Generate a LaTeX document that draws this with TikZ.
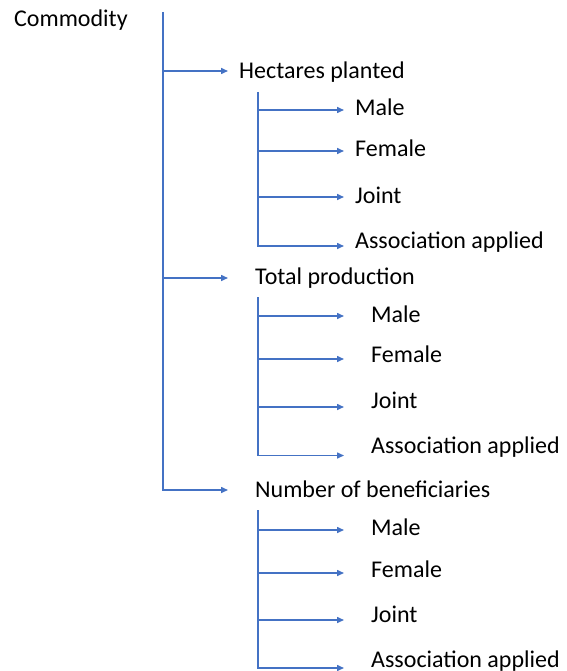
\documentclass[tikz,border=0pt]{standalone}
\usepackage{fontspec}
\setmainfont{Carlito}
\usetikzlibrary{arrows.meta}
\definecolor{linkblue}{RGB}{68,114,196}

\begin{document}
\begin{tikzpicture}[
  x=1pt, y=-1pt,
  item/.style={
    anchor=base west, inner sep=0pt,
    font=\fontsize{24}{28}\selectfont
  },
  branch/.style={
    -{Triangle[length=7pt,width=6pt]},
    draw=linkblue, line width=1.5pt
  }
]
\useasboundingbox (0,0) rectangle (566,671);

% ==================== LABELS ====================

\node (comm) [item] at (14,27) {Commodity};

\node (hect) [item] at (239,79) {Hectares planted};
\node (hmale) [item] at (355,115.5) {Male};
\node (hfem) [item] at (355,156.5) {Female};
\node (hjoint) [item] at (355,203) {Joint};
\node (hassoc) [item] at (355,248) {Association applied};

\node (prod) [item] at (255,284) {Total production};
\node (pmale) [item] at (371,322) {Male};
\node (pfem) [item] at (371,362) {Female};
\node (pjoint) [item] at (371,408) {Joint};
\node (passoc) [item] at (371,453) {Association applied};

\node (benf) [item] at (255,497) {Number of beneficiaries};
\node (bmale) [item] at (371,535) {Male};
\node (bfem) [item] at (371,577) {Female};
\node (bjoint) [item] at (371,622.5) {Joint};
\node (bassoc) [item] at (371,667) {Association applied};

% ==================== TRUNK ====================

\coordinate (trunk) at (163,12);
\coordinate (hectin) at (228,71);
\coordinate (prodin) at (228,278);
\coordinate (benfin) at (228,490);

\draw [branch] (trunk) |- (benfin);
\draw [branch] (trunk |- hectin) -- (hectin);
\draw [branch] (trunk |- prodin) -- (prodin);

% ==================== SUB-BRANCHES ====================

% Hectares planted
\coordinate (hstem) at (258,92);
\coordinate (hmalein) at (344,110);
\coordinate (hfemin) at (344,151);
\coordinate (hjointin) at (344,197);
\coordinate (hassocin) at (344,246);
\draw [branch] (hstem) |- (hassocin);
\foreach \t in {hmalein,hfemin,hjointin}
  \draw [branch] (hstem |- \t) -- (\t);

% Total production
\coordinate (pstem) at (258,297);
\coordinate (pmalein) at (344,316);
\coordinate (pfemin) at (344,359);
\coordinate (pjointin) at (344,407);
\coordinate (passocin) at (344,455.5);
\draw [branch] (pstem) |- (passocin);
\foreach \t in {pmalein,pfemin,pjointin}
  \draw [branch] (pstem |- \t) -- (\t);

% Number of beneficiaries
\coordinate (bstem) at (258,510);
\coordinate (bmalein) at (344,530);
\coordinate (bfemin) at (344,573);
\coordinate (bjointin) at (344,620);
\coordinate (bassocin) at (344,668);
\draw [branch] (bstem) |- (bassocin);
\foreach \t in {bmalein,bfemin,bjointin}
  \draw [branch] (bstem |- \t) -- (\t);

\end{tikzpicture}
\end{document}
